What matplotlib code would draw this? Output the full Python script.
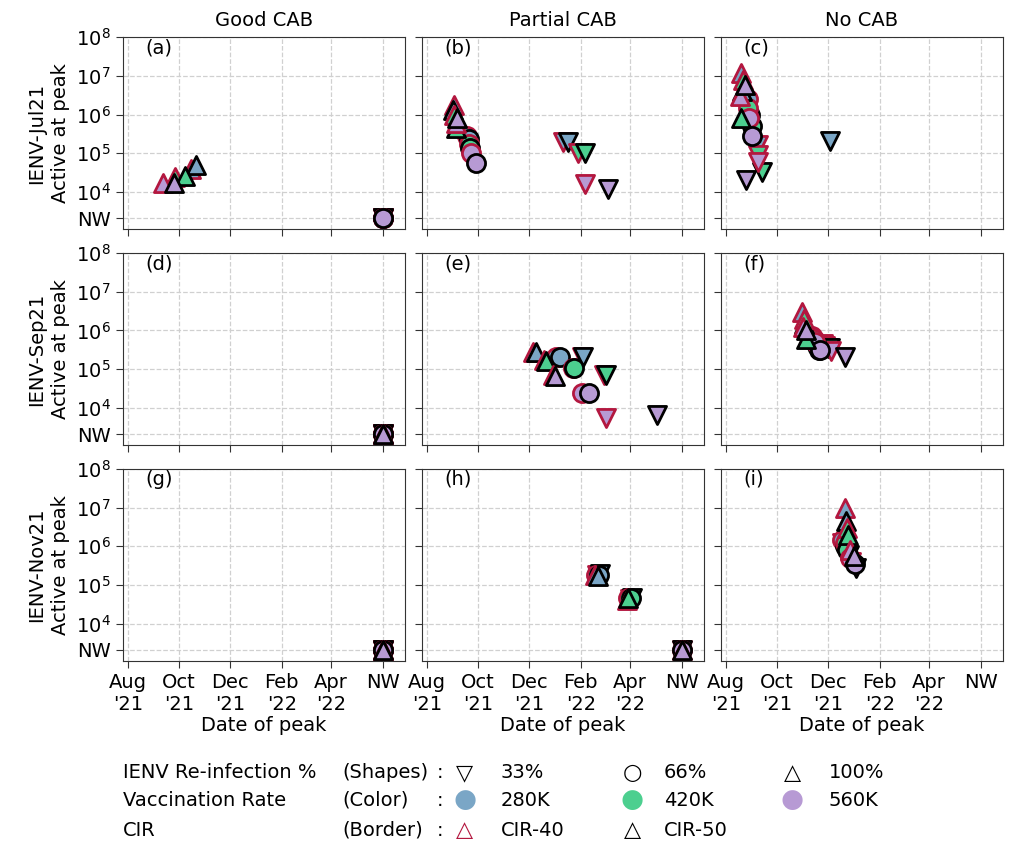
import numpy as np
import pandas as pd
import matplotlib
matplotlib.use('Agg')
import matplotlib.pyplot as plt
import matplotlib.dates as mdates

# every panel holds 18 runs, always in this order:
# shape (re-infection) -> colour (vaccination) -> border (CIR)
reinfection = ['33%', '66%', '100%']
vaccination = ['280K', '420K', '560K']
cir_levels = ['CIR-40', 'CIR-50']

col_titles = ['Good CAB', 'Partial CAB', 'No CAB']
row_titles = ['IENV-Jul21', 'IENV-Sep21', 'IENV-Nov21']
panel_tags = ['(a)', '(b)', '(c)', '(d)', '(e)', '(f)', '(g)', '(h)', '(i)']

NW = 'NW'  # no wave

x_ticks = ['2021-08-01', '2021-10-01', '2021-12-01', '2022-02-01', '2022-04-01', NW]
x_ticklabels = ["Aug\n'21", "Oct\n'21", "Dec\n'21", "Feb\n'22", "Apr\n'22", 'NW']
y_ticks = [NW, 1e4, 1e5, 1e6, 1e7, 1e8]
y_ticklabels = ['NW', '$10^4$', '$10^5$', '$10^6$', '$10^7$', '$10^8$']

# (a) Good CAB / Jul21
a_dates = [NW] * 12 + ['2021-10-16', '2021-10-21', '2021-09-27', '2021-10-09', '2021-09-12', '2021-09-25']
a_active = [NW] * 12 + [3.9e4, 4.9e4, 2.4e4, 2.6e4, 1.7e4, 1.7e4]
# (b) Partial CAB / Jul21
b_dates = ['2022-01-11', '2022-01-17', '2022-01-29', '2022-02-06', '2022-02-06', '2022-03-06',
           '2021-09-18', '2021-09-20', '2021-09-20', '2021-09-22', '2021-09-23', '2021-09-29',
           '2021-09-03', '2021-09-01', '2021-09-03', '2021-09-05', '2021-09-05', '2021-09-06']
b_active = [1.9e5, 1.9e5, 1.0e5, 1.0e5, 1.6e4, 1.2e4,
            2.8e5, 2.4e5, 1.7e5, 1.4e5, 1.0e5, 5.5e4,
            1.8e6, 1.3e6, 1.0e6, 4.5e5, 6.0e5, 8.0e5]
# (c) No CAB / Jul21
c_dates = ['2021-09-09', '2021-12-03', '2021-09-09', '2021-09-13', '2021-09-08', '2021-08-25',
           '2021-08-27', '2021-08-30', '2021-08-28', '2021-09-01', '2021-08-29', '2021-09-01',
           '2021-08-19', '2021-08-20', '2021-08-21', '2021-08-19', '2021-08-18', '2021-08-24']
c_active = [1.6e5, 2.1e5, 9.0e4, 3.2e4, 6.0e4, 2.0e4,
            2.5e6, 1.0e6, 1.5e6, 5.0e5, 8.0e5, 2.8e5,
            1.2e7, 4.0e6, 8.0e6, 8.0e5, 3.0e6, 5.9e6]
# (d) Good CAB / Sep21
d_dates = [NW] * 18
d_active = [NW] * 18
# (e) Partial CAB / Sep21
e_dates = ['2022-02-02', '2022-02-04', '2022-03-01', '2022-03-03', '2022-03-03', '2022-05-03',
           '2022-01-03', '2022-01-07', '2022-01-23', '2022-01-24', '2022-02-02', '2022-02-11',
           '2021-12-06', '2021-12-09', '2021-12-19', '2021-12-21', '2021-12-30', '2022-01-01']
e_active = [2.1e5, 2.0e5, 7.2e4, 7.2e4, 5.6e3, 6.5e3,
            2.1e5, 2.0e5, 1.1e5, 1.1e5, 2.45e4, 2.45e4,
            2.8e5, 2.7e5, 1.7e5, 1.65e5, 7.0e4, 6.8e4]
# (f) No CAB / Sep21
f_dates = ['2021-11-25', '2021-12-01', '2021-11-28', '2021-12-03', '2021-12-05', '2021-12-22',
           '2021-11-12', '2021-11-18', '2021-11-14', '2021-11-20', '2021-11-16', '2021-11-22',
           '2021-10-31', '2021-11-03', '2021-11-02', '2021-11-05', '2021-11-01', '2021-11-05']
f_active = [4.5e5, 3.5e5, 4.0e5, 3.5e5, 3.0e5, 2.1e5,
            7.0e5, 4.0e5, 6.0e5, 3.2e5, 5.0e5, 3.2e5,
            3.0e6, 1.5e6, 2.0e6, 6.0e5, 1.2e6, 1.0e6]
# (g) Good CAB / Nov21
g_dates = [NW] * 18
g_active = [NW] * 18
# (h) Partial CAB / Nov21
h_dates = ['2022-02-20', '2022-02-24', '2022-04-01', '2022-04-03', NW, NW,
           '2022-02-19', '2022-02-23', '2022-03-30', '2022-04-02', NW, NW,
           '2022-02-18', '2022-02-21', '2022-03-28', '2022-03-29', NW, NW]
h_active = [1.8e5, 1.9e5, 4.3e4, 4.6e4, NW, NW,
            1.8e5, 1.8e5, 4.5e4, 4.5e4, NW, NW,
            1.8e5, 1.75e5, 4.2e4, 4.6e4, NW, NW]
# (i) No CAB / Nov21
i_dates = ['2021-12-18', '2021-12-22', '2021-12-22', '2021-12-26', '2021-12-29', '2022-01-03',
           '2021-12-18', '2021-12-21', '2021-12-21', '2021-12-24', '2021-12-28', '2022-01-02',
           '2021-12-22', '2021-12-23', '2021-12-24', '2021-12-25', '2021-12-28', '2022-01-01']
i_active = [1.2e6, 8.0e5, 9.0e5, 6.0e5, 4.0e5, 2.7e5,
            1.5e6, 1.0e6, 1.2e6, 8.0e5, 5.0e5, 3.5e5,
            1.0e7, 4.5e6, 3.0e6, 2.0e6, 8.0e5, 5.5e5]

panels = [(a_dates, a_active), (b_dates, b_active), (c_dates, c_active),
          (d_dates, d_active), (e_dates, e_active), (f_dates, f_active),
          (g_dates, g_active), (h_dates, h_active), (i_dates, i_active)]

# where the "no wave" runs sit on the axes
NW_DATE = '2022-06-02'
NW_LEVEL = 2.1e3

markers = ['v', 'o', '^']
fill_colors = ['#7aa6c6', '#4ccf8f', '#b79ad4']
edge_colors = ['#b3173f', 'black']


def to_x(d):
    return mdates.date2num(pd.Timestamp(NW_DATE if d == NW else d))


def to_y(v):
    return NW_LEVEL if v == NW else v


plt.rcParams['font.family'] = ['DejaVu Sans']
plt.rcParams['font.size'] = 14

fig, axes = plt.subplots(3, 3, figsize=(10.14, 8.44), dpi=100)
fig.subplots_adjust(left=0.121, right=0.989, top=0.956, bottom=0.217, wspace=0.06, hspace=0.125)

for p, ax in enumerate(axes.flat):
    row, col = divmod(p, 3)
    dates, active = panels[p]
    for k in range(18):
        s_i, c_i, b_i = k // 6, (k // 2) % 3, k % 2
        ax.scatter(to_x(dates[k]), to_y(active[k]), marker=markers[s_i], s=170,
                   c=fill_colors[c_i], edgecolors=edge_colors[b_i], linewidths=2, zorder=3)

    ax.set_yscale('log')
    ax.set_ylim(1.1e3, 1e8)
    ax.set_xlim(to_x('2021-07-26'), to_x('2022-06-28'))
    ax.set_xticks([to_x(d) for d in x_ticks])
    ax.set_yticks([to_y(v) for v in y_ticks])
    ax.yaxis.set_minor_locator(matplotlib.ticker.NullLocator())
    ax.grid(True, color='#d0d0d0', linestyle='--', linewidth=0.9)
    ax.set_axisbelow(True)
    for sp in ax.spines.values():
        sp.set_color('#333333')
    ax.tick_params(length=5, color='#333333')

    if row == 2:
        ax.set_xticklabels(x_ticklabels)
        ax.set_xlabel('Date of peak', labelpad=2)
    else:
        ax.set_xticklabels([])
    if col == 0:
        ax.set_yticklabels(y_ticklabels)
        ax.set_ylabel(row_titles[row] + '\nActive at peak', labelpad=4, linespacing=1.35)
    else:
        ax.set_yticklabels([])
    if row == 0:
        ax.set_title(col_titles[col], fontsize=14, pad=8)
    ax.text(0.08, 0.945, panel_tags[p], transform=ax.transAxes, ha='left', va='center')

# legend written out as three lines of text
W, H = 1014.0, 844.0
legend_rows = [
    ('IENV Re-infection %', '(Shapes)', [('\u25bd', 'black', '33%'), ('\u25cb', 'black', '66%'), ('\u25b3', 'black', '100%')]),
    ('Vaccination Rate', '(Color)', [('\u25cf', fill_colors[0], '280K'), ('\u25cf', fill_colors[1], '420K'), ('\u25cf', fill_colors[2], '560K')]),
    ('CIR', '(Border)', [('\u25b3', edge_colors[0], 'CIR-40'), ('\u25b3', edge_colors[1], 'CIR-50')]),
]
row_y = [773, 800, 830]
cat_x = [123, 342]
sym_x = [465, 632, 792]
lab_x = [501, 664, 829]
for r, (name, kind, items) in enumerate(legend_rows):
    y = 1 - row_y[r] / H
    fig.text(cat_x[0] / W, y, name, ha='left', va='center')
    fig.text(cat_x[1] / W, y, kind, ha='left', va='center')
    fig.text(440 / W, y, ':', ha='center', va='center')
    for n, (sym, colr, lab) in enumerate(items):
        fig.text(sym_x[n] / W, y, sym, color=colr, ha='center', va='center',
                 fontsize=19 if sym == '\u25cf' else 16,
                 fontweight='bold' if r == 2 else 'normal')
        fig.text(lab_x[n] / W, y, lab, ha='left', va='center')

fig.savefig('out.png', dpi=100)
